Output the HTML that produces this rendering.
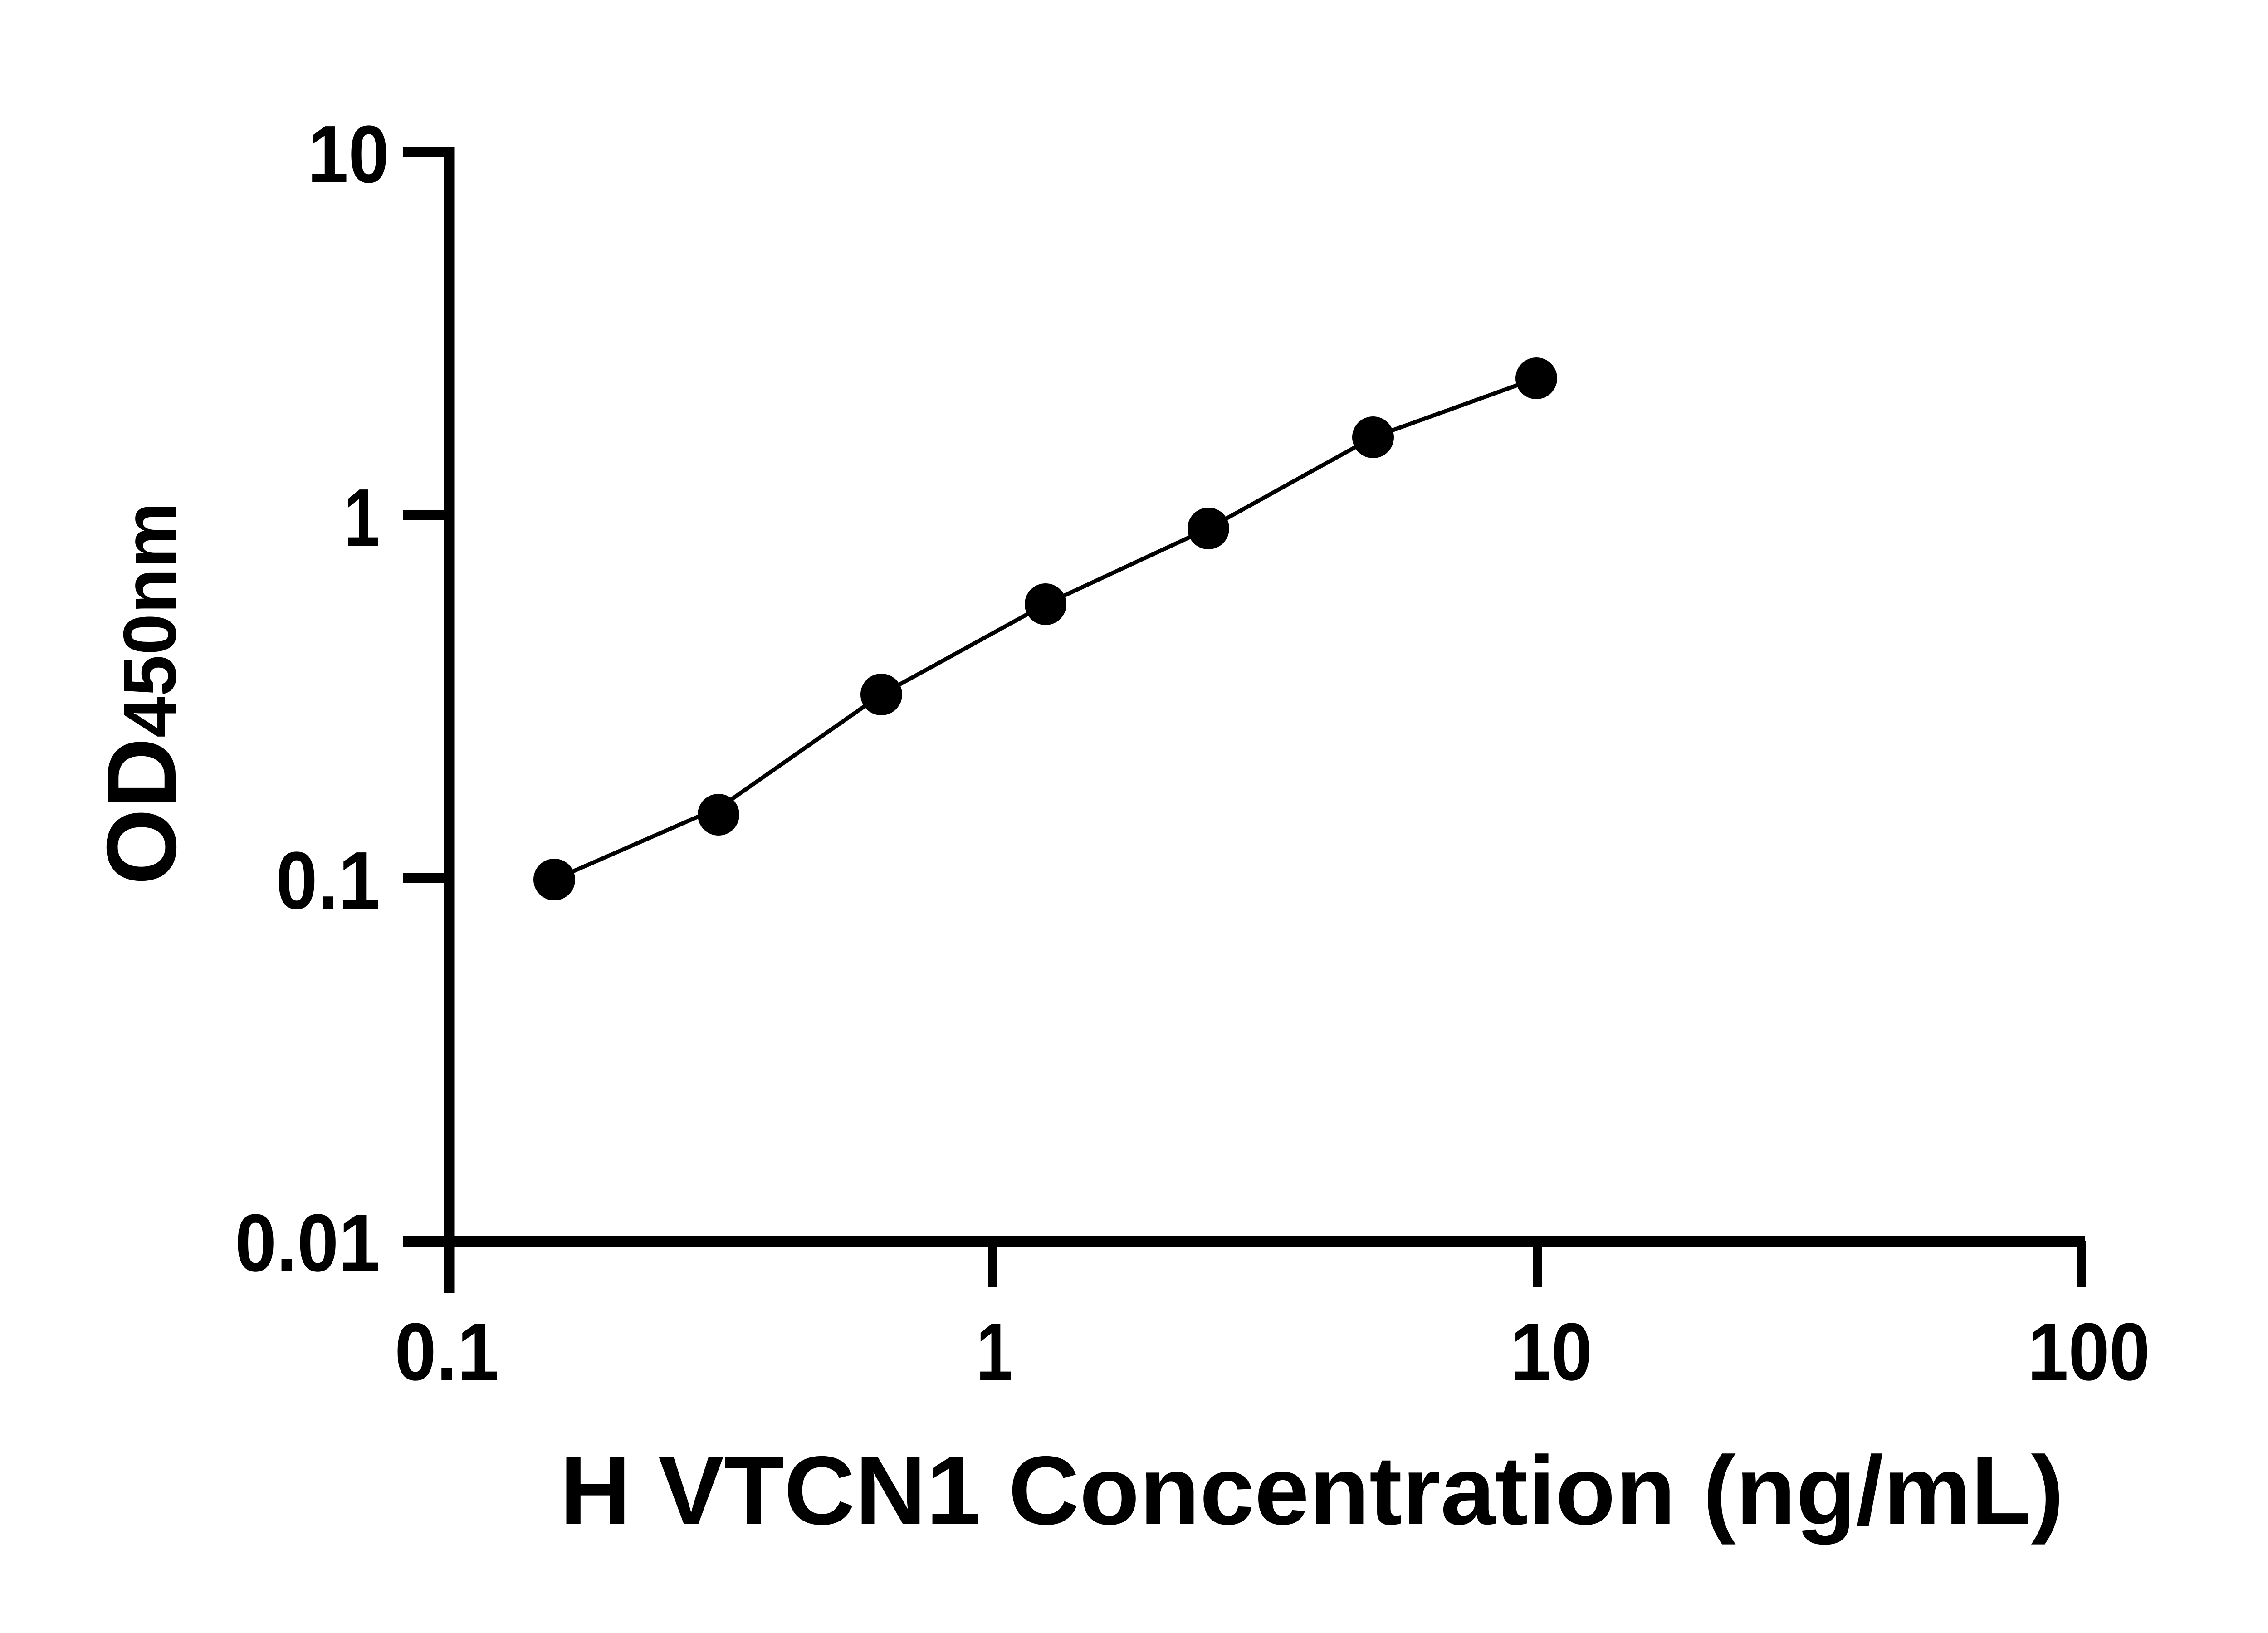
<!DOCTYPE html>
<html><head><style>html,body{margin:0;padding:0;background:#fff}svg{display:block}</style></head>
<body>
<svg width="5142" height="3600" viewBox="0 0 5142 3600" xmlns="http://www.w3.org/2000/svg" font-family="'Liberation Sans', sans-serif" font-weight="bold">
<rect width="5142" height="3600" fill="#fff"/>
<g stroke="#000" fill="none">
<line x1="990" y1="323" x2="990" y2="2850" stroke-width="23"/>
<line x1="888" y1="2736" x2="4597" y2="2736" stroke-width="24"/>
<line x1="888" y1="335" x2="990" y2="335" stroke-width="22"/>
<line x1="888" y1="1136" x2="990" y2="1136" stroke-width="22"/>
<line x1="888" y1="1936" x2="990" y2="1936" stroke-width="22"/>
<line x1="2188" y1="2736" x2="2188" y2="2838" stroke-width="20"/>
<line x1="3389" y1="2736" x2="3389" y2="2838" stroke-width="20"/>
<line x1="4588" y1="2736" x2="4588" y2="2838" stroke-width="20"/>
<polyline points="1222,1939 1590,1778 1943,1531 2305,1332 2664,1165 3027,964 3387,834" stroke-width="9" stroke-linejoin="round"/>
</g>
<g fill="#000">
<circle cx="1222" cy="1939" r="46"/>
<circle cx="1584" cy="1796" r="46"/>
<circle cx="1943" cy="1531" r="46"/>
<circle cx="2305" cy="1332" r="46"/>
<circle cx="2664" cy="1165" r="46"/>
<circle cx="3027" cy="964" r="46"/>
<circle cx="3387" cy="834" r="46"/>
</g>
<g font-size="180" text-anchor="end">
<text x="858" y="402" textLength="180" lengthAdjust="spacingAndGlyphs">10</text>
<text x="838" y="1203" textLength="80" lengthAdjust="spacingAndGlyphs">1</text>
<text x="838" y="2003" textLength="230" lengthAdjust="spacingAndGlyphs">0.1</text>
<text x="838" y="2802" textLength="320" lengthAdjust="spacingAndGlyphs">0.01</text>
</g>
<g font-size="180" text-anchor="middle">
<text x="985" y="3042" textLength="230" lengthAdjust="spacingAndGlyphs">0.1</text>
<text x="2192" y="3042" textLength="80" lengthAdjust="spacingAndGlyphs">1</text>
<text x="3420" y="3042" textLength="180" lengthAdjust="spacingAndGlyphs">10</text>
<text x="4605" y="3042" textLength="270" lengthAdjust="spacingAndGlyphs">100</text>
</g>
<text x="1234" y="3360" font-size="215" textLength="3316" lengthAdjust="spacingAndGlyphs">H VTCN1 Concentration (ng/mL)</text>
<g transform="translate(387,1951) rotate(-90)">
<text x="0" y="0" font-size="218" textLength="844" lengthAdjust="spacingAndGlyphs">OD<tspan font-size="165">450nm</tspan></text>
</g>
</svg>
</body></html>
